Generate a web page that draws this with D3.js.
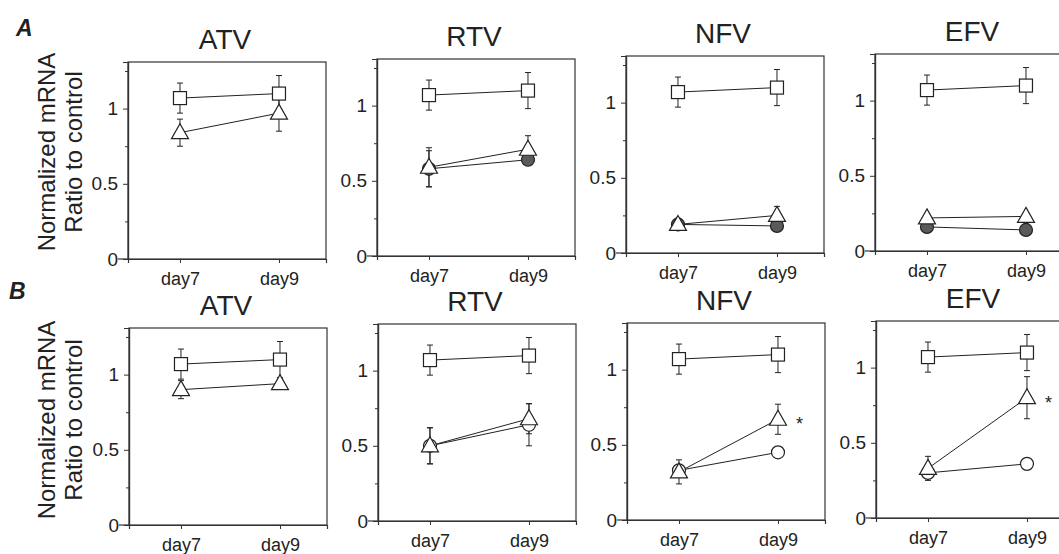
<!DOCTYPE html>
<html>
<head>
<meta charset="utf-8">
<script src="https://d3js.org/d3.v7.min.js"></script>
<style>
    body { margin: 0; background: #fff; }
    svg { display: block; }
    text { font-family: "Liberation Sans", Arial, sans-serif; fill: #222; }
</style>
</head>
<body>
<script>
// values
const drugs = ["ATV", "RTV", "NFV", "EFV"];
const days = [7, 9];
const yTicks = [0, 0.5, 1];
const yMinor = [0.25, 0.75, 1.25];

// control (open squares), same in every panel
const ctrlMean = [1.07, 1.10];
const ctrlErr = [0.10, 0.12];

// row A: open triangles + filled circles
const triMeanA = [[0.84, 0.97], [0.59, 0.71], [0.19, 0.25], [0.22, 0.23]];
const triErrA = [[0.09, 0.12], [0.13, 0.09], [0.02, 0.06], [0.02, 0.02]];
const dotMeanA = [null, [0.58, 0.64], [0.19, 0.18], [0.16, 0.14]];
const dotErrA = [null, [0.12, 0.02], [0.02, 0.02], [0.01, 0.01]];

// row B: open triangles + open circles
const triMeanB = [[0.90, 0.94], [0.50, 0.68], [0.32, 0.67], [0.33, 0.80]];
const triErrB = [[0.06, 0.03], [0.12, 0.10], [0.08, 0.10], [0.08, 0.14]];
const ringMeanB = [null, [0.50, 0.64], [0.33, 0.45], [0.30, 0.36]];
const ringErrB = [null, [0.12, 0.14], [0.03, 0], [0.03, 0]];
const starB = [[0, 0], [0, 0], [0, 1], [0, 1]];

var Figure = (function () {
    function Figure(width = 1059, height = 554) {
        this.width = width;
        this.height = height;
        this.pw = 198;
        this.ph = 197;
        this.init();
        this.draw();
    }

    Figure.prototype.init = function () {
        this.svg = d3.select("body").append("svg")
            .attr("width", this.width)
            .attr("height", this.height);
        this.x = d3.scaleLinear().domain([5.95, 9.95]).range([0, this.pw]);
        this.y = d3.scaleLinear().domain([0, 1.31]).range([this.ph, 0]);
        this.triPath = "M0,-9L8.5,6L-8.5,6Z";
    };

    Figure.prototype.panel = function (left, top, k, rows) {
        var self = this;
        const g = self.svg.append("g").attr("transform", `translate(${left},${top})`);

        g.append("rect")
            .attr("width", self.pw).attr("height", self.ph)
            .attr("fill", "none").attr("stroke", "#333").attr("stroke-width", 1.2);

        const yAx = g.append("g").call(d3.axisLeft(self.y).tickValues(yTicks).tickSize(5).tickPadding(5)
            .tickFormat(d => d === 0 ? "0" : d === 1 ? "1" : "0.5"));
        yAx.selectAll("text").style("font-size", "19px").style("font-family", "Liberation Sans, Arial, sans-serif").attr("fill", "#222");
        g.append("g").call(d3.axisLeft(self.y).tickValues(yMinor).tickSize(3).tickFormat(""));

        const xAx = g.append("g").attr("transform", `translate(0,${self.ph})`)
            .call(d3.axisBottom(self.x).tickValues(days).tickSize(4).tickPadding(9).tickFormat(d => "day" + d));
        xAx.selectAll("text").style("font-size", "18px").style("font-family", "Liberation Sans, Arial, sans-serif").attr("fill", "#222");
        g.selectAll(".domain").attr("stroke", "#333").attr("stroke-width", 1.2);
        g.selectAll(".tick line").attr("stroke", "#333");
        // bottom line runs a bit past the frame on the left
        g.append("line").attr("x1", -10).attr("x2", 0).attr("y1", self.ph).attr("y2", self.ph)
            .attr("stroke", "#333").attr("stroke-width", 1.2);

        g.append("text")
            .attr("x", self.pw / 2 - 2).attr("y", -13)
            .attr("text-anchor", "middle")
            .style("font-size", "28px")
            .text(drugs[k]);

        const line = d3.line().x((d, i) => self.x(days[i])).y(d => self.y(d));

        rows.forEach(function (s) {
            if (!s.mean) return;
            g.append("path").datum(s.mean).attr("d", line)
                .attr("fill", "none").attr("stroke", "#222").attr("stroke-width", 1);
        });

        rows.forEach(function (s) {
            if (!s.mean) return;
            s.mean.forEach(function (m, i) {
                const e = s.err[i];
                if (e <= 0) return;
                const cx = self.x(days[i]);
                const eg = g.append("g").attr("stroke", "#222").attr("stroke-width", 1);
                eg.append("line").attr("x1", cx).attr("x2", cx).attr("y1", self.y(m - e)).attr("y2", self.y(m + e));
                [m - e, m + e].forEach(v => eg.append("line")
                    .attr("x1", cx - 3).attr("x2", cx + 3).attr("y1", self.y(v)).attr("y2", self.y(v)));
            });
        });

        rows.forEach(function (s) {
            if (!s.mean) return;
            s.mean.forEach(function (m, i) {
                const cx = self.x(days[i]), cy = self.y(m);
                let mk;
                if (s.shape === "square") {
                    mk = g.append("rect").attr("x", cx - 6.5).attr("y", cy - 6.5).attr("width", 13).attr("height", 13);
                } else if (s.shape === "tri") {
                    mk = g.append("path").attr("d", self.triPath).attr("transform", `translate(${cx},${cy})`);
                } else {
                    mk = g.append("circle").attr("cx", cx).attr("cy", cy).attr("r", 6.5);
                }
                mk.attr("fill", s.fill).attr("stroke", "#222").attr("stroke-width", 1.2);
                if (s.star && s.star[i]) {
                    g.append("text").attr("x", cx + 18).attr("y", cy + 11)
                        .style("font-size", "18px").text("*");
                }
            });
        });
    };

    Figure.prototype.yLabel = function (cy) {
        const t = this.svg.append("text")
            .attr("transform", `translate(55,${cy}) rotate(-90)`)
            .attr("text-anchor", "middle")
            .style("font-size", "24px");
        t.append("tspan").attr("x", 0).attr("y", 0).text("Normalized mRNA");
        t.append("tspan").attr("x", 0).attr("y", 27).text("Ratio to control");
    };

    Figure.prototype.draw = function () {
        var self = this;
        const topsA = [62, 59, 56, 54];
        const topsB = [328, 324, 323, 321];

        drugs.forEach(function (d, k) {
            self.panel(128 + k * 249, topsA[k], k, [
                { shape: "circle", fill: "#5a5a5a", mean: dotMeanA[k], err: dotErrA[k] },
                { shape: "tri", fill: "#fff", mean: triMeanA[k], err: triErrA[k] },
                { shape: "square", fill: "#fff", mean: ctrlMean, err: ctrlErr }
            ]);
            self.panel(129 + k * 249, topsB[k], k, [
                { shape: "circle", fill: "#fff", mean: ringMeanB[k], err: ringErrB[k] },
                { shape: "tri", fill: "#fff", mean: triMeanB[k], err: triErrB[k], star: starB[k] },
                { shape: "square", fill: "#fff", mean: ctrlMean, err: ctrlErr }
            ]);
        });

        self.yLabel(152);
        self.yLabel(420);

        self.svg.append("text").attr("x", 16).attr("y", 36)
            .style("font-size", "23px").style("font-weight", "bold").style("font-style", "italic").text("A");
        self.svg.append("text").attr("x", 9).attr("y", 299)
            .style("font-size", "23px").style("font-weight", "bold").style("font-style", "italic").text("B");
    };

    return Figure;
})();

new Figure();
</script>
</body>
</html>
